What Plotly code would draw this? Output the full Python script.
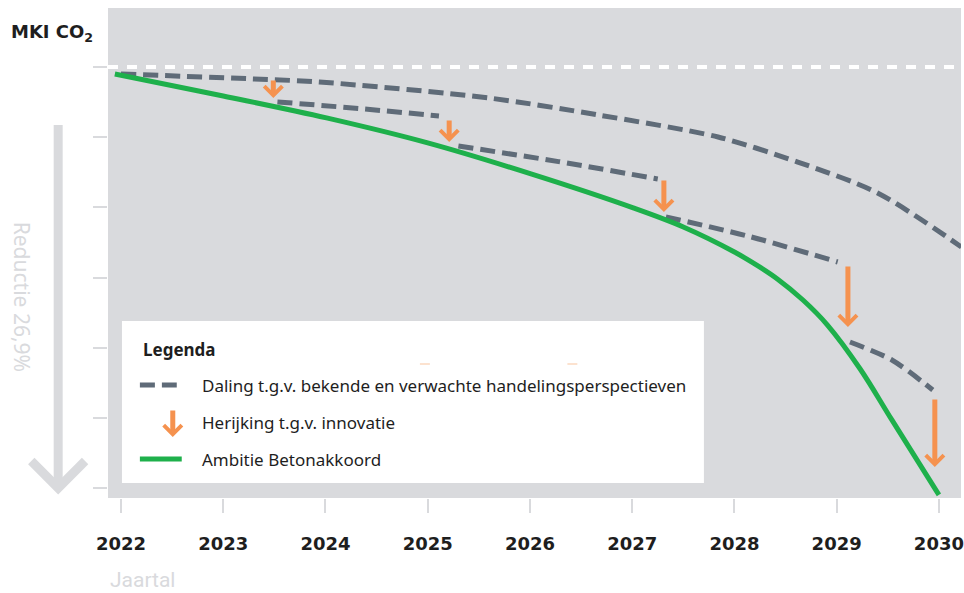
import plotly.graph_objects as go

# ---- data (index, baseline = 100) ----
years = [2022, 2023, 2024, 2025, 2026, 2027, 2028, 2029, 2030]
y_ticks = [70, 75, 80, 85, 90, 95, 100]
baseline = 100

ambitie_x = [2021.94, 2023.00, 2024.01, 2025.00, 2026.01, 2027.01, 2027.50, 2028.00, 2028.23,
             2028.42, 2028.67, 2028.91, 2029.23, 2029.54, 2030.00]
ambitie_y = [99.50, 97.93, 96.37, 94.59, 92.38, 89.96, 88.60, 86.82, 85.83,
             84.90, 83.40, 81.62, 78.49, 74.86, 69.52]

daling1_x = [2022.00, 2023.29, 2023.94, 2025.60, 2026.67, 2027.84, 2028.62, 2029.40, 2030.22]
daling1_y = [99.50, 99.15, 98.93, 97.79, 96.58, 95.01, 93.23, 91.03, 87.18]
daling2_x = [2023.53, 2024.33, 2025.11]
daling2_y = [97.51, 97.04, 96.51]
daling3_x = [2025.30, 2026.28, 2027.25]
daling3_y = [94.37, 93.26, 92.02]
daling4_x = [2027.33, 2028.13, 2029.01]
daling4_y = [89.32, 87.96, 86.11]
daling5_x = [2029.13, 2029.54, 2029.94]
daling5_y = [80.41, 79.13, 76.99]

arrow_x = [2023.49, 2025.21, 2027.31, 2029.11, 2029.96]
arrow_from = [99.15, 96.30, 92.02, 85.90, 76.42]
arrow_to = [97.79, 94.66, 89.67, 81.48, 71.51]

legend_labels = ["Daling t.g.v. bekende en verwachte handelingsperspectieven",
                 "Herijking t.g.v. innovatie",
                 "Ambitie Betonakkoord"]

# ---- style ----
BG = "#d9dadd"
DASH_C = "#5f6b78"
GREEN = "#1eb04b"
ORANGE = "#f5924f"
LIGHT = "#d9dadd"
FONT = "Noto Sans"

fig = go.Figure()

dashed = dict(color=DASH_C, width=5, dash="15px,7px")
for xs, ys in [(daling1_x, daling1_y), (daling2_x, daling2_y), (daling3_x, daling3_y),
               (daling4_x, daling4_y), (daling5_x, daling5_y)]:
    fig.add_trace(go.Scatter(x=xs, y=ys, mode="lines", line=dict(shape="spline", smoothing=0.8, **dashed),
                             showlegend=False, hoverinfo="skip"))

fig.add_trace(go.Scatter(x=ambitie_x, y=ambitie_y, mode="lines",
                         line=dict(color=GREEN, width=5, shape="spline", smoothing=1.0),
                         showlegend=False, hoverinfo="skip"))

# baseline white dashed
fig.add_shape(type="line", xref="paper", yref="y", x0=0, x1=1, y0=baseline, y1=baseline,
              line=dict(color="white", width=4, dash="10px,9px"), layer="below")

# arrows
for xa, y0, y1 in zip(arrow_x, arrow_from, arrow_to):
    fig.add_annotation(x=xa, y=y1, ax=xa, ay=y0, xref="x", yref="y", axref="x", ayref="y",
                       text="", showarrow=True, arrowhead=4, arrowwidth=5, arrowsize=0.7,
                       arrowcolor=ORANGE, standoff=0)

# plot-area pixel layout
FIG_W, FIG_H = 964, 593
L, T, W, H = 108, 8, 856, 490
def px(xp):
    return (xp - L) / W
def py(yp):
    return (T + H - yp) / H

# legend box
fig.add_shape(type="rect", xref="paper", yref="paper", x0=px(122), x1=px(706), y0=py(483), y1=py(321),
              fillcolor="white", line=dict(width=0), layer="above")
fig.add_shape(type="line", xref="paper", yref="paper", x0=px(421), x1=px(431), y0=py(364), y1=py(364),
              line=dict(color="#fbd8bf", width=1.5))
fig.add_shape(type="line", xref="paper", yref="paper", x0=px(569), x1=px(579), y0=py(364), y1=py(364),
              line=dict(color="#fbd8bf", width=1.5))
fig.add_annotation(xref="paper", yref="paper", x=px(141), y=py(349), xanchor="left", yanchor="middle",
                   text="<b>Legenda</b>", showarrow=False, font=dict(family=FONT, size=17, color="#1e1e1e"))
fig.add_shape(type="line", xref="paper", yref="paper", x0=px(140), x1=px(177), y0=py(385), y1=py(385),
              line=dict(color=DASH_C, width=5, dash="15px,7px"))
fig.add_annotation(xref="paper", yref="paper", x=px(173), y=py(437), ax=0, ay=-28,
                   text="", showarrow=True, arrowhead=4, arrowwidth=5, arrowsize=0.7,
                   arrowcolor=ORANGE, standoff=0)
fig.add_shape(type="line", xref="paper", yref="paper", x0=px(140), x1=px(182), y0=py(459), y1=py(459),
              line=dict(color=GREEN, width=5))
for lab, yy in zip(legend_labels, [385, 422, 459]):
    fig.add_annotation(xref="paper", yref="paper", x=px(200), y=py(yy), xanchor="left", yanchor="middle",
                       text=lab, showarrow=False, font=dict(family=FONT, size=17, color="#1e1e1e"))

# title, side texts
fig.add_annotation(xref="paper", yref="paper", x=px(9), y=py(33), xanchor="left", yanchor="middle",
                   text="<b>MKI CO<sub>2</sub></b>", showarrow=False,
                   font=dict(family="DejaVu Sans", size=18, color="#1e1e1e"))
fig.add_annotation(xref="paper", yref="paper", x=px(22), y=py(297), xanchor="center", yanchor="middle",
                   text="Reductie 26,9%", textangle=90, showarrow=False,
                   font=dict(family=FONT, size=21, color=LIGHT))
fig.add_annotation(xref="paper", yref="paper", x=px(108), y=py(580), xanchor="left", yanchor="middle",
                   text="Jaartal", showarrow=False, font=dict(family="Roboto", size=21, color=LIGHT))

# big reduction arrow at left
fig.add_shape(type="path", xref="paper", yref="paper",
              path=f"M {px(58)},{py(125)} L {px(58)},{py(486)}",
              line=dict(color=LIGHT, width=9))
fig.add_shape(type="path", xref="paper", yref="paper",
              path=f"M {px(31)},{py(461)} L {px(58)},{py(488)} L {px(85)},{py(461)}",
              line=dict(color=LIGHT, width=9))

fig.update_layout(
    width=FIG_W, height=FIG_H,
    margin=dict(l=L, r=FIG_W - L - W, t=T, b=FIG_H - T - H),
    paper_bgcolor="white", plot_bgcolor=BG,
    showlegend=False,
    xaxis=dict(range=[2021.873, 2030.216], tickvals=years, ticktext=[str(y) for y in years],
               ticks="outside", ticklen=14, tickwidth=2, tickcolor=LIGHT,
               ticklabelstandoff=15, ticklabeloverflow="allow",
               showgrid=False, zeroline=False, showline=False, fixedrange=True,
               tickfont=dict(family="DejaVu Sans", size=18, color="#1e1e1e", weight="bold")),
    yaxis=dict(range=[69.30, 104.20], tickvals=y_ticks, showticklabels=False,
               ticks="outside", ticklen=14, tickwidth=2, tickcolor=LIGHT,
               showgrid=False, zeroline=False, showline=False, fixedrange=True),
)

fig.write_html("out.html", config={"displayModeBar": False},
               post_script="document.body.style.margin='0';document.body.style.overflow='hidden';")
